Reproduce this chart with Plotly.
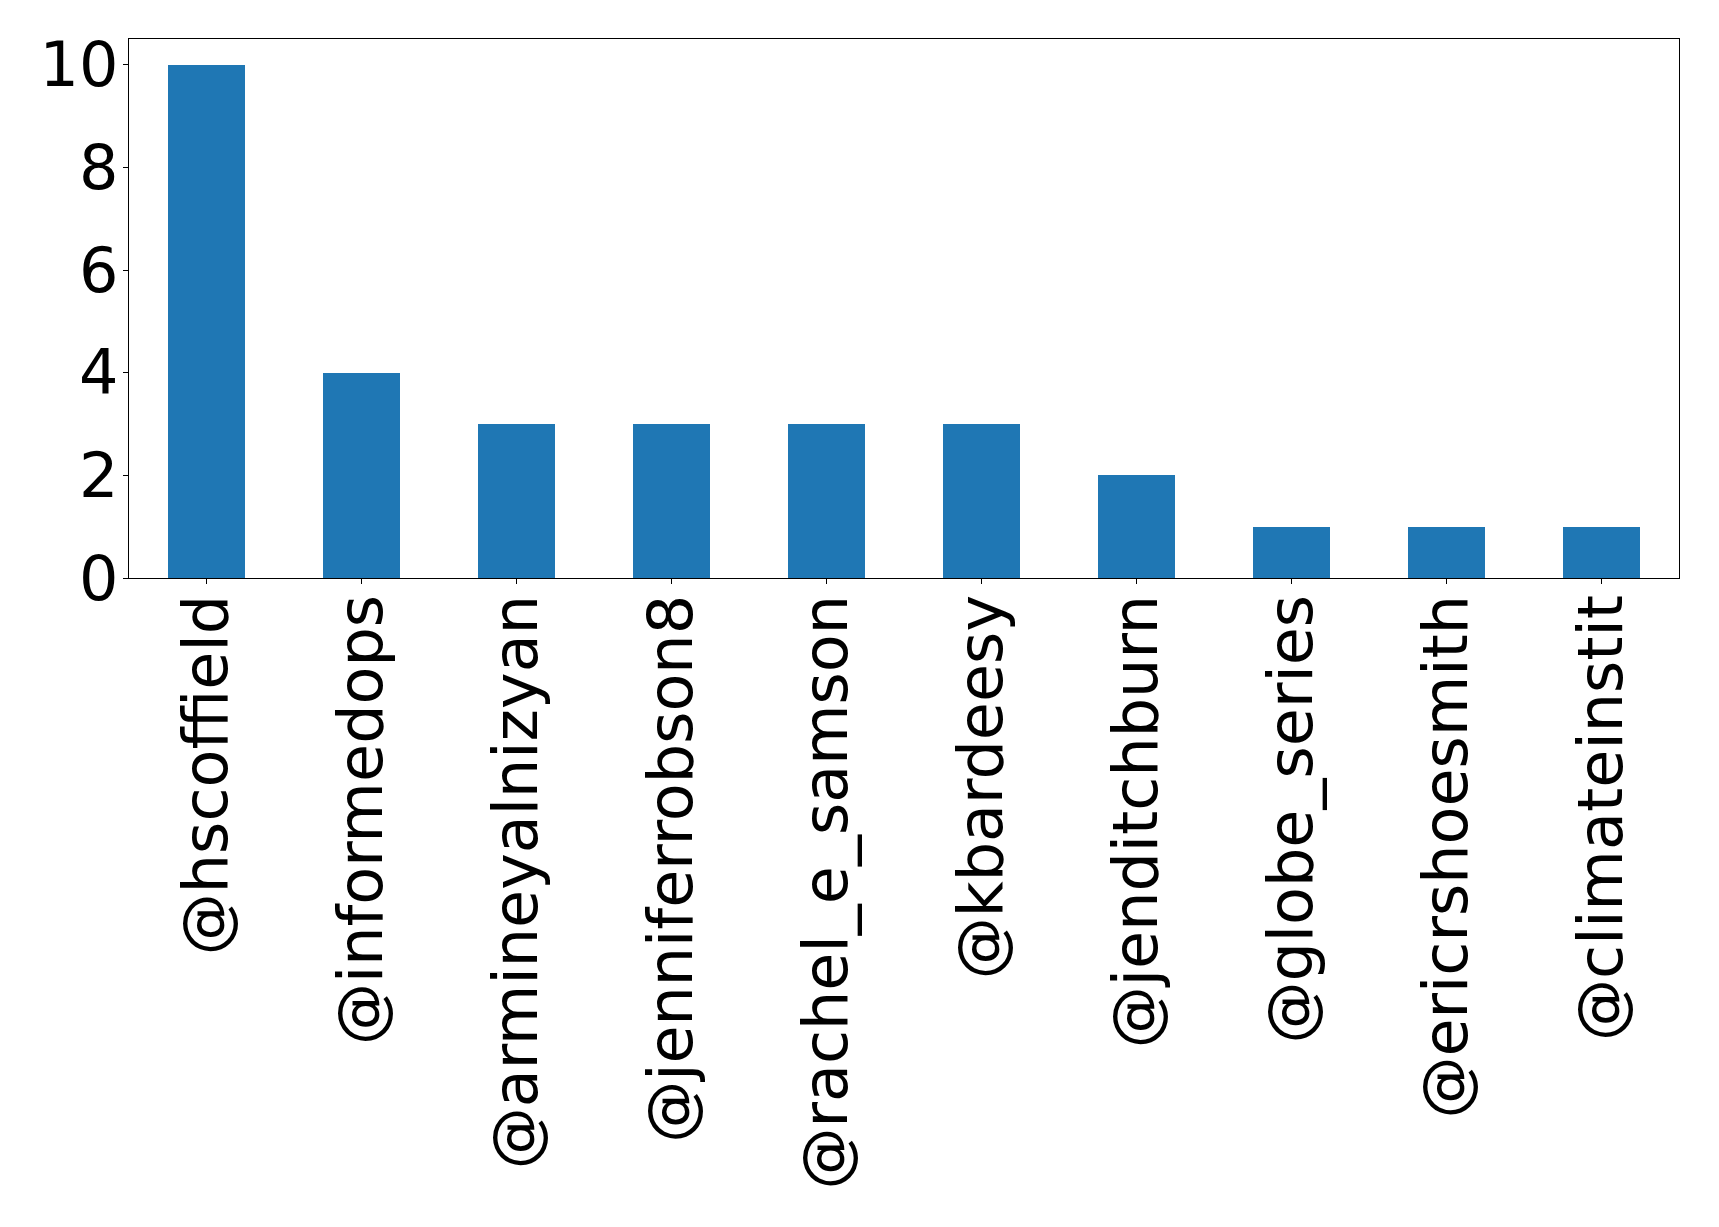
import plotly.graph_objects as go

handles = ["@hscoffield", "@informedops", "@armineyalnizyan", "@jenniferrobson8",
           "@rachel_e_samson", "@kbardeesy", "@jenditchburn", "@globe_series",
           "@ericrshoesmith", "@climateinstit"]
counts = [10, 4, 3, 3, 3, 3, 2, 1, 1, 1]
y_ticks = [0, 2, 4, 6, 8, 10]

fig = go.Figure(go.Bar(x=list(range(len(handles))), y=counts, width=0.5,
                       marker=dict(color="#1f77b4", line=dict(width=0))))

font = dict(family="DejaVu Sans", size=62, color="black")
fig.update_layout(
    width=1719, height=1227,
    margin=dict(l=121, r=48, t=31, b=657),
    plot_bgcolor="white", paper_bgcolor="white",
    showlegend=False, bargap=0,
    font=font,
)
fig.update_xaxes(range=[-0.5, len(handles) - 0.5], tickmode="array",
                 tickvals=list(range(len(handles))), ticktext=handles,
                 tickangle=-90, ticks="outside", ticklen=5, tickwidth=1.2,
                 tickcolor="black", showline=True, linecolor="black", linewidth=1.2,
                 mirror=True, showgrid=False, zeroline=False, tickfont=font,
                 automargin=False, ticklabelstandoff=-14)
fig.update_yaxes(range=[0, 10.5], tickmode="array", tickvals=y_ticks,
                 ticks="outside", ticklen=5, tickwidth=1.2, tickcolor="black",
                 showline=True, linecolor="black", linewidth=1.2, mirror=True,
                 showgrid=False, zeroline=False, tickfont=font,
                 automargin=False, ticklabelstandoff=-8)
fig.write_html("out.html")
